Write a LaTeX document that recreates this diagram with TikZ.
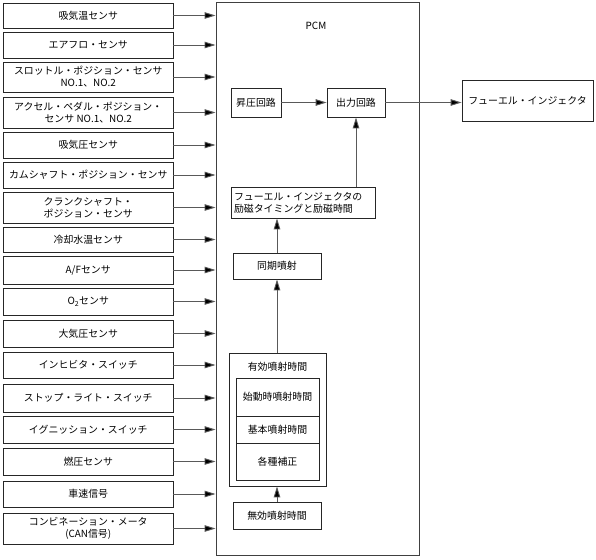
\documentclass[tikz,border=0pt]{standalone}
\usepackage{fontspec}
\setmainfont{Noto Sans CJK JP}
\usetikzlibrary{arrows.meta,calc}
\begin{document}
\begin{tikzpicture}[x=1pt,y=-1pt,
  box/.style={draw=black!85,line width=0.8pt,inner sep=1pt,align=center,font=\fontsize{9.9}{12}\selectfont},
  sensor/.style={box,minimum width=169.5pt},
  arr/.style={draw=black!65,line width=0.9pt,-{Triangle[length=11pt,width=6.5pt,fill=black]}},
  lbl/.style={font=\fontsize{9.9}{12}\selectfont,inner sep=0pt}]
\useasboundingbox (0,0) rectangle (596,559);
% PCM
\node[draw=black!75,line width=0.9pt,minimum width=203pt,minimum height=553pt,inner sep=0pt] (pcm) at (317.5,278.5) {};
\node[lbl] (pcmlbl) at (316,26) {PCM};
% sensors
\node[sensor,minimum height=25pt] (s1) at (88.25,15.5) {吸気温センサ};
\node[sensor,minimum height=26pt] (s2) at (88.25,45) {エアフロ・センサ};
\node[sensor,minimum height=30pt] (s3) at (88.25,77) {スロットル・ポジション・センサ\\NO.1、NO.2};
\node[sensor,minimum height=31pt] (s4) at (88.25,112.5) {アクセル・ペダル・ポジション・\\センサ NO.1、NO.2};
\node[sensor,minimum height=26pt] (s5) at (88.25,145) {吸気圧センサ};
\node[sensor,minimum height=26pt] (s6) at (88.25,175) {カムシャフト・ポジション・センサ};
\node[sensor,minimum height=31pt] (s7) at (88.25,207.5) {クランクシャフト・\\ポジション・センサ};
\node[sensor,minimum height=25pt] (s8) at (88.25,239.5) {冷却水温センサ};
\node[sensor,minimum height=28pt] (s9) at (88.25,270) {A/Fセンサ};
\node[sensor,minimum height=27pt] (s10) at (88.25,301.5) {O\textsubscript{2}センサ};
\node[sensor,minimum height=27pt] (s11) at (88.25,333.5) {大気圧センサ};
\node[sensor,minimum height=26pt] (s12) at (88.25,365) {インヒビタ・スイッチ};
\node[sensor,minimum height=28pt] (s13) at (88.25,398) {ストップ・ライト・スイッチ};
\node[sensor,minimum height=27pt] (s14) at (88.25,429.5) {イグニッション・スイッチ};
\node[sensor,minimum height=27pt] (s15) at (88.25,461.5) {燃圧センサ};
\node[sensor,minimum height=26pt] (s16) at (88.25,494) {車速信号};
\node[sensor,minimum height=31pt] (s17) at (88.25,528.5) {コンビネーション・メータ\\(CAN信号)};
\foreach \i in {1,...,17}{\draw[arr] (s\i.east) -- (s\i.east -| pcm.west);}
% inside PCM
\node[box,minimum width=50pt,minimum height=29pt] (boost) at (256,102.5) {昇圧回路};
\node[box,minimum width=58pt,minimum height=29pt] (out) at (356,102.5) {出力回路};
\node[box,minimum width=131pt,minimum height=41pt] (inj) at (527.5,100.5) {フューエル・インジェクタ};
\node[box,minimum width=144pt,minimum height=31pt,align=left,text width=138pt] (tim) at (303,202.5) {フューエル・インジェクタの\\励磁タイミングと励磁時間};
\node[box,minimum width=88pt,minimum height=26pt] (sync) at (277,266) {同期噴射};
\node[draw=black!85,line width=0.8pt,minimum width=97pt,minimum height=133pt,inner sep=0pt] (eff) at (277.5,419.5) {};
\node[lbl] (efflbl) at (277.5,366.5) {有効噴射時間};
\node[box,minimum width=83pt,minimum height=38pt] (start) at (277.5,397) {始動時噴射時間};
\node[box,minimum width=83pt,minimum height=27pt] (basic) at (277.5,429.5) {基本噴射時間};
\node[box,minimum width=83pt,minimum height=37pt] (corr) at (277.5,461.5) {各種補正};
\node[box,minimum width=88pt,minimum height=27pt] (inv) at (277,515.5) {無効噴射時間};
% connectors
\draw[arr] (boost.east) -- (out.west);
\draw[arr] (out.east) -- (out.east -| inj.west);
\draw[arr] (tim.north -| out.south) -- (out.south);
\draw[arr] (sync.north) -- (sync.north |- tim.south);
\draw[arr] (eff.north -| sync.south) -- (sync.south);
\draw[arr] (inv.north) -- (inv.north |- eff.south);
\end{tikzpicture}
\end{document}
